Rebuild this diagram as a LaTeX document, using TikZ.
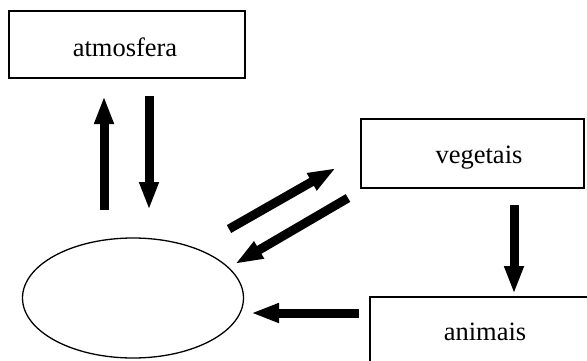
\documentclass[tikz,border=0pt]{standalone}
\usepackage{fontspec}
\setmainfont{Liberation Serif}
\usetikzlibrary{arrows.meta,shapes.geometric}
\begin{document}
\begin{tikzpicture}[x=1pt,y=-1pt,
  box/.style={draw,line width=1.8pt,inner sep=0pt},
  lbl/.style={font=\fontsize{26.5}{30}\selectfont},
  flow/.style={line width=9pt,-{Triangle[length=28pt,width=18pt]}}]
\useasboundingbox (0,0) rectangle (587,360);
\node[box,minimum width=236pt,minimum height=67pt] (atm) at (127,44.5) {};
\node[lbl] (atmt) at (125,47) {atmosfera};
\node[box,minimum width=223pt,minimum height=69pt] (veg) at (472.5,153.5) {};
\node[lbl] (vegt) at (479,158) {vegetais};
\node[box,minimum width=224pt,minimum height=74pt,anchor=north west] (ani) at (369,296) {};
\node[lbl] (anit) at (485,332) {animais};
\node[draw,ellipse,line width=1.3pt,minimum width=221pt,minimum height=120pt,inner sep=0pt] (soil) at (133,298) {};
\coordinate (a1s) at (104,210); \coordinate (a1e) at (104,96);
\coordinate (a2s) at (149,96); \coordinate (a2e) at (149,210);
\coordinate (d1s) at (229,229); \coordinate (d1e) at (336,168);
\coordinate (d2s) at (348,198); \coordinate (d2e) at (235,264);
\coordinate (v1s) at (514,205); \coordinate (v1e) at (514,294);
\coordinate (h1s) at (359,313); \coordinate (h1e) at (251,313);
\draw[flow] (a1s) -- (a1e);
\draw[flow] (a2s) -- (a2e);
\draw[flow] (d1s) -- (d1e);
\draw[flow] (d2s) -- (d2e);
\draw[flow] (v1s) -- (v1e);
\draw[flow] (h1s) -- (h1e);
\end{tikzpicture}
\end{document}
